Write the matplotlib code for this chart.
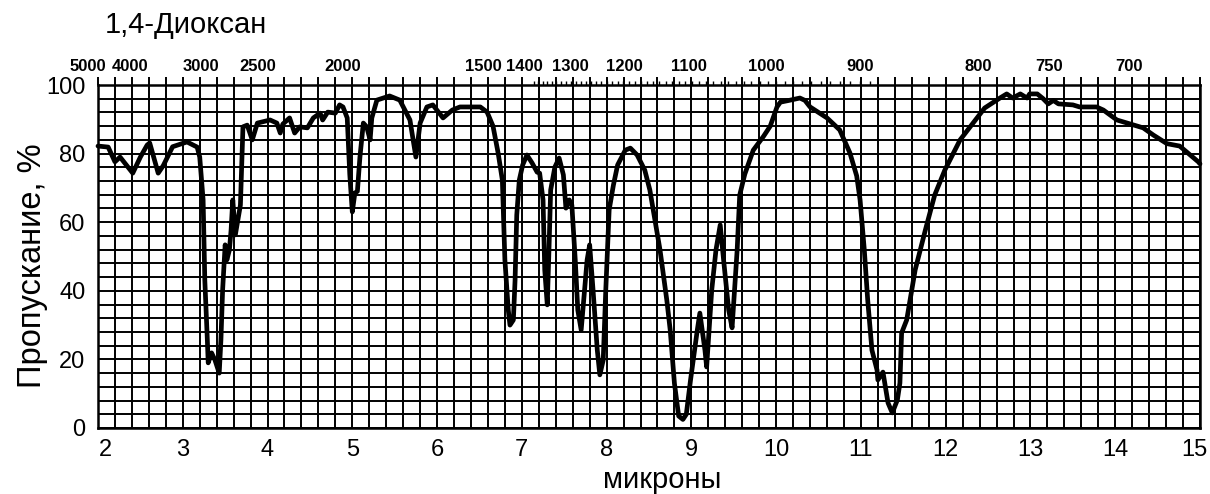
import numpy as np
import matplotlib
matplotlib.use("Agg")
import matplotlib.pyplot as plt
import matplotlib.transforms as mtransforms

plt.rcParams['font.family'] = ['Liberation Sans', 'DejaVu Sans']

# ---------------- data ----------------
title = "1,4-Диоксан"
ylabel = "Пропускание, %"
xlabel = "микроны"

micron_ticks = list(range(2, 16))
percent_ticks = [0, 20, 40, 60, 80, 100]
wavenumber_labels = [5000, 4000, 3000, 2500, 2000, 1500, 1400, 1300, 1200,
                     1100, 1000, 900, 800, 750, 700]
wavenumber_minor = list(range(1400, 899, -10))

wavelength_um = [
    2.00, 2.12, 2.20, 2.26, 2.41, 2.50, 2.58, 2.61, 2.71, 2.77,
    2.88, 3.05, 3.17, 3.20, 3.24, 3.26, 3.29, 3.30, 3.34, 3.38,
    3.43, 3.45, 3.47, 3.50, 3.52, 3.55, 3.57, 3.59, 3.62, 3.64,
    3.68, 3.71, 3.76, 3.82, 3.88, 4.03, 4.11, 4.15, 4.18, 4.26,
    4.32, 4.38, 4.47, 4.54, 4.62, 4.65, 4.71, 4.80, 4.85, 4.89,
    4.94, 4.97, 5.00, 5.03, 5.06, 5.09, 5.13, 5.17, 5.21, 5.23,
    5.29, 5.44, 5.56, 5.68, 5.75, 5.80, 5.88, 5.95, 6.07, 6.18,
    6.27, 6.51, 6.59, 6.66, 6.72, 6.77, 6.80, 6.84, 6.86, 6.90,
    6.92, 6.94, 6.97, 7.01, 7.06, 7.12, 7.18, 7.21, 7.25, 7.27,
    7.30, 7.32, 7.34, 7.39, 7.44, 7.49, 7.52, 7.56, 7.59, 7.63,
    7.66, 7.70, 7.73, 7.77, 7.80, 7.84, 7.89, 7.92, 7.96, 7.99,
    8.03, 8.08, 8.13, 8.22, 8.28, 8.36, 8.45, 8.51, 8.63, 8.71,
    8.75, 8.80, 8.85, 8.90, 8.94, 8.99, 9.07, 9.10, 9.16, 9.18,
    9.24, 9.29, 9.34, 9.38, 9.44, 9.48, 9.54, 9.57, 9.63, 9.73,
    9.85, 9.93, 10.01, 10.05, 10.15, 10.28, 10.34, 10.40, 10.60, 10.75,
    10.87, 10.95, 10.99, 11.04, 11.08, 11.13, 11.19, 11.20, 11.26, 11.32,
    11.37, 11.43, 11.46, 11.48, 11.54, 11.58, 11.64, 11.76, 11.87, 11.99,
    12.17, 12.35, 12.46, 12.64, 12.72, 12.79, 12.88, 12.96, 12.99, 13.08,
    13.15, 13.21, 13.27, 13.33, 13.50, 13.58, 13.78, 13.86, 14.02, 14.14,
    14.29, 14.33, 14.45, 14.61, 14.76, 14.98, 15.00,
]
transmittance = [
    82.2, 81.9, 77.6, 79.0, 74.3, 79.0, 82.5, 83.1, 74.3, 76.5,
    82.0, 83.4, 81.9, 79.0, 66.5, 43.1, 25.6, 19.0, 21.9, 19.8,
    16.0, 25.6, 40.2, 53.4, 49.0, 51.9, 57.7, 66.5, 56.3, 59.2,
    65.0, 87.8, 88.3, 84.0, 88.9, 89.8, 88.9, 86.0, 88.6, 90.4,
    86.0, 87.8, 87.5, 90.4, 91.8, 89.8, 92.1, 91.8, 94.2, 93.6,
    90.4, 74.0, 63.0, 68.5, 69.0, 79.0, 88.9, 87.8, 84.0, 90.4,
    95.6, 96.8, 95.6, 89.8, 79.0, 88.9, 93.6, 94.2, 90.4, 92.7,
    93.6, 93.6, 92.1, 88.0, 80.2, 72.3, 49.0, 34.4, 30.0, 31.5,
    43.1, 62.1, 72.3, 76.7, 79.6, 77.3, 74.6, 74.3, 66.5, 46.1,
    35.9, 51.9, 69.4, 76.1, 78.7, 73.8, 64.1, 66.5, 65.0, 49.0,
    34.4, 28.6, 37.3, 49.0, 53.4, 40.2, 22.7, 15.5, 19.8, 40.2,
    63.6, 70.8, 76.7, 81.0, 81.6, 79.6, 75.2, 69.4, 51.9, 37.3,
    28.6, 13.0, 3.5, 2.5, 4.0, 14.0, 28.6, 33.5, 22.7, 17.8,
    40.2, 51.9, 59.2, 49.0, 34.4, 29.2, 51.9, 67.9, 74.0, 81.0,
    85.0, 88.0, 93.6, 95.0, 95.5, 96.2, 95.5, 93.6, 90.4, 86.9,
    80.2, 73.5, 66.5, 51.9, 37.3, 22.7, 16.9, 14.0, 16.3, 7.3,
    4.4, 8.2, 13.1, 27.7, 31.5, 37.3, 46.1, 57.7, 67.9, 75.2,
    84.0, 89.8, 93.3, 96.2, 97.4, 96.2, 97.4, 96.2, 97.4, 97.4,
    96.0, 94.5, 95.5, 94.5, 94.2, 93.6, 93.6, 92.7, 89.8, 88.9,
    87.8, 87.5, 85.4, 82.9, 82.2, 77.6, 77.0,
]
assert len(wavelength_um) == len(transmittance)

# ---------------- figure ----------------
W, H = 1210, 494
fig = plt.figure(figsize=(W / 100, H / 100), dpi=100)
ax = fig.add_axes([98 / W, 1 - 428 / H, 1102 / W, 343 / H])
ax.set_xlim(2, 15)
ax.set_ylim(0, 100)

ax.set_xticks(micron_ticks)
ax.set_xticks(np.arange(2, 15.001, 0.2), minor=True)
ax.set_yticks(percent_ticks)
ax.set_yticks(np.arange(0, 100.001, 4), minor=True)
ax.grid(which='both', color='black', linewidth=1.4)
ax.set_axisbelow(True)
ax.tick_params(which='both', length=0)
ax.tick_params(axis='x', labelsize=17, pad=8)
ax.tick_params(axis='y', labelsize=17, pad=9)
for s in ax.spines.values():
    s.set_linewidth(1.8)
    s.set_color('black')

# nudge first and last bottom labels inward, as in the reference
xlabels = ax.get_xticklabels()
xlabels[0].set_transform(xlabels[0].get_transform() +
                         mtransforms.ScaledTranslation(7 / 100, 0, fig.dpi_scale_trans))
xlabels[-1].set_transform(xlabels[-1].get_transform() +
                          mtransforms.ScaledTranslation(-6 / 100, 0, fig.dpi_scale_trans))

# grid lines poking above the top frame
ax.vlines(np.arange(2, 15.001, 0.2), 100, 102.2, colors='black',
          linewidth=1.4, clip_on=False)
# small wavenumber ticks on the top edge
ax.vlines([1e4 / w for w in wavenumber_minor], 100, 101.3, colors='black',
          linewidth=1.0, clip_on=False)

# top wavenumber labels
trans = mtransforms.offset_copy(ax.get_xaxis_transform(), fig=fig,
                                x=-10, y=0, units='dots')
for w in wavenumber_labels:
    ax.text(1e4 / w, 1.055, str(w), transform=trans, ha='center',
            va='center', fontsize=12, fontweight='bold')

# spectrum
ax.plot(wavelength_um, transmittance, color='black', linewidth=3.4,
        solid_joinstyle='round', solid_capstyle='round', zorder=5,
        clip_on=False)

fig.text(105 / W, 1 - 25 / H, title, ha='left', va='center', fontsize=21)
fig.text(33 / W, 1 - 266 / H, ylabel, rotation=90, ha='center',
         va='center', fontsize=23.5)
fig.text(662 / W, 1 - 480 / H, xlabel, ha='center', va='center',
         fontsize=21)

fig.savefig('out.png', dpi=100)
